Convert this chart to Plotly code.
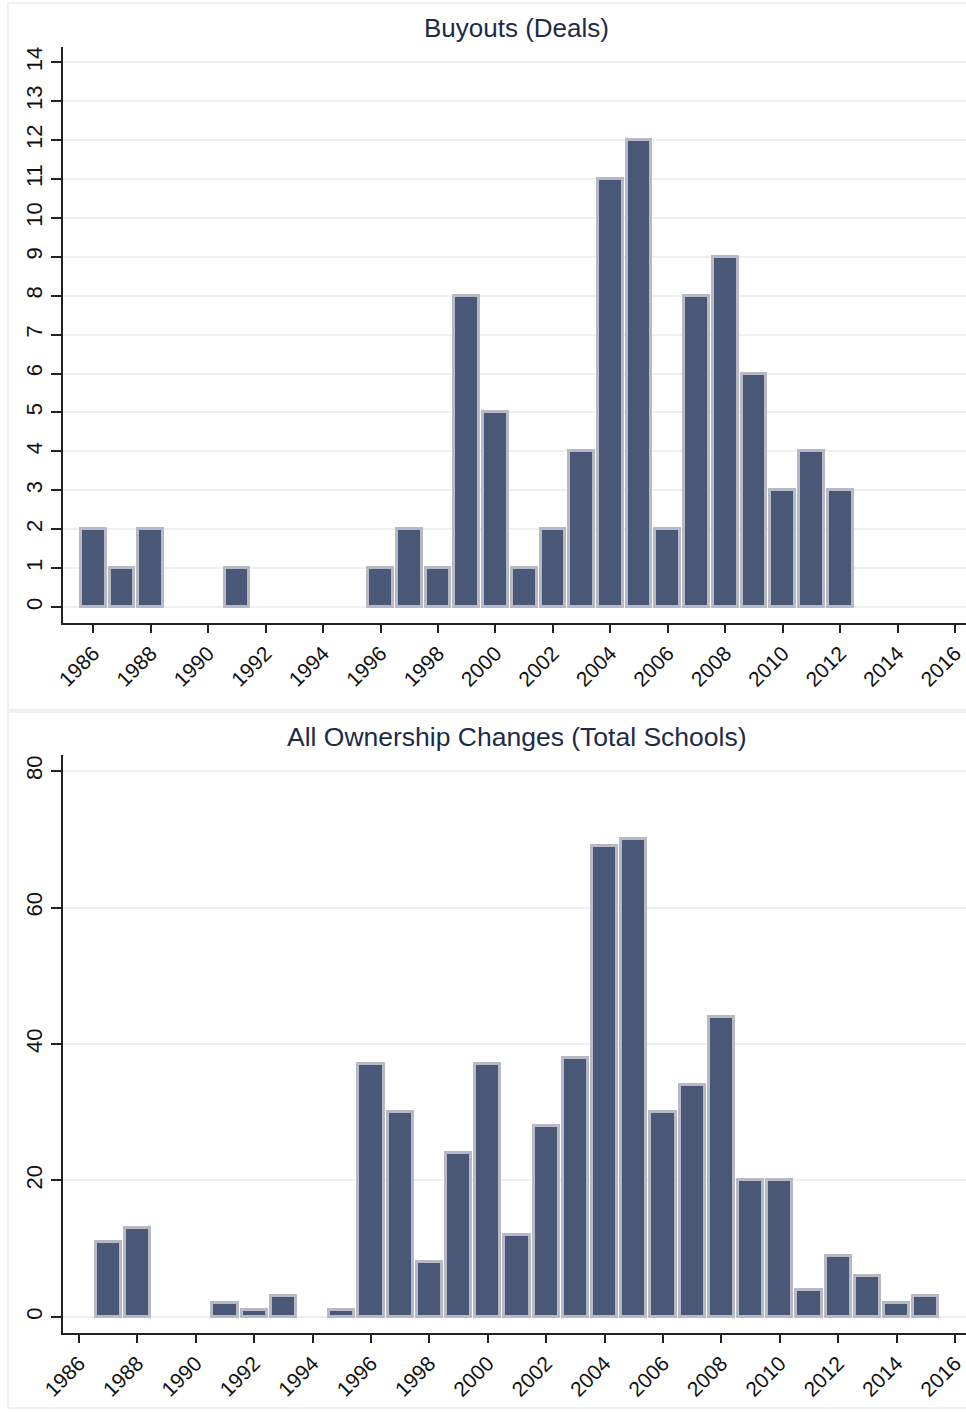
import plotly.graph_objects as go

# ---- data ----
buyout_years = [1986, 1987, 1988, 1991, 1996, 1997, 1998, 1999, 2000, 2001, 2002,
                2003, 2004, 2005, 2006, 2007, 2008, 2009, 2010, 2011, 2012]
buyout_deals = [2, 1, 2, 1, 1, 2, 1, 8, 5, 1, 2,
                4, 11, 12, 2, 8, 9, 6, 3, 4, 3]

own_years = [1987, 1988, 1991, 1992, 1993, 1995, 1996, 1997, 1998, 1999, 2000,
             2001, 2002, 2003, 2004, 2005, 2006, 2007, 2008, 2009, 2010,
             2011, 2012, 2013, 2014, 2015]
own_schools = [11, 13, 2, 1, 3, 1, 37, 30, 8, 24, 37,
               12, 28, 38, 69, 70, 30, 34, 44, 20, 20,
               4, 9, 6, 2, 3]

x_ticks = list(range(1986, 2017, 2))
top_yticks = list(range(0, 15))
bot_yticks = [0, 20, 40, 60, 80]

title_top = "Buyouts (Deals)"
title_bot = "All Ownership Changes (Total Schools)"

# ---- style ----
W, H = 966, 1412
FILL = "#4a5877"
EDGE = "#b7bac4"
FONT = "Liberation Sans, Arial, Helvetica, sans-serif"
TITLE_COL = "#1d2b49"

def px_x(p):
    return p / W

def px_y(p):
    return 1 - p / H

fig = go.Figure()
fig.add_trace(go.Bar(x=buyout_years, y=buyout_deals, width=0.86,
                     marker=dict(color=FILL, line=dict(color=EDGE, width=3)),
                     xaxis="x", yaxis="y", showlegend=False, hoverinfo="x+y"))
fig.add_trace(go.Bar(x=own_years, y=own_schools, width=0.86,
                     marker=dict(color=FILL, line=dict(color=EDGE, width=3)),
                     xaxis="x2", yaxis="y2", showlegend=False, hoverinfo="x+y"))

xcommon = dict(tickmode="array", tickvals=x_ticks, ticktext=[str(v) for v in x_ticks],
               tickangle=-45, ticks="outside", ticklen=8, tickwidth=1.5, tickcolor="#222",
               showline=True, linecolor="#222", linewidth=1.5, showgrid=False,
               zeroline=False, automargin=False,
               tickfont=dict(family=FONT, size=21, color="#111"))
ycommon = dict(ticks="outside", ticklen=10, tickwidth=1.5, tickcolor="#222",
               showline=True, linecolor="#222", linewidth=1.5, showgrid=True,
               gridcolor="#efefef", gridwidth=1.5, zeroline=False, tickangle=-90,
               automargin=False,
               tickfont=dict(family=FONT, size=22, color="#111"))

fig.update_layout(
    width=W, height=H,
    margin=dict(l=0, r=0, t=0, b=0, pad=0),
    paper_bgcolor="white", plot_bgcolor="white",
    bargap=0,
    xaxis=dict(domain=[px_x(63), 1.0], range=[1984.945, 2016.38], anchor="y", **xcommon),
    yaxis=dict(domain=[px_y(623), px_y(47)], range=[-0.41, 14.39], anchor="x",
               tickmode="array", tickvals=top_yticks, ticktext=[str(v) for v in top_yticks],
               **ycommon),
    xaxis2=dict(domain=[px_x(63), 1.0], range=[1985.452, 2016.377], anchor="y2", **xcommon),
    yaxis2=dict(domain=[px_y(1333), px_y(755)], range=[-2.35, 82.35], anchor="x2",
                tickmode="array", tickvals=bot_yticks, ticktext=[str(v) for v in bot_yticks],
                **ycommon),
    font=dict(family=FONT),
)

fig.add_annotation(text=title_top, xref="paper", yref="paper", x=px_x(516), y=px_y(28),
                   showarrow=False, xanchor="center", yanchor="middle",
                   font=dict(family=FONT, size=26, color=TITLE_COL))
fig.add_annotation(text=title_bot, xref="paper", yref="paper", x=px_x(517), y=px_y(737),
                   showarrow=False, xanchor="center", yanchor="middle",
                   font=dict(family=FONT, size=26.5, color=TITLE_COL))

# faint panel frames
fig.add_shape(type="rect", xref="paper", yref="paper", x0=px_x(8), x1=px_x(970),
              y0=px_y(710), y1=px_y(3), line=dict(color="#ececec", width=1.5), layer="below")
fig.add_shape(type="rect", xref="paper", yref="paper", x0=px_x(8), x1=px_x(970),
              y0=px_y(1408), y1=px_y(712), line=dict(color="#ececec", width=1.5), layer="below")

fig.write_html(
    "out.html",
    config={"displayModeBar": False},
    post_script=(
        "document.documentElement.style.margin='0';"
        "document.body.style.margin='0';"
        "document.body.style.padding='0';"
        "document.documentElement.style.overflow='hidden';"
        "document.body.style.overflow='hidden';"
    ),
)
